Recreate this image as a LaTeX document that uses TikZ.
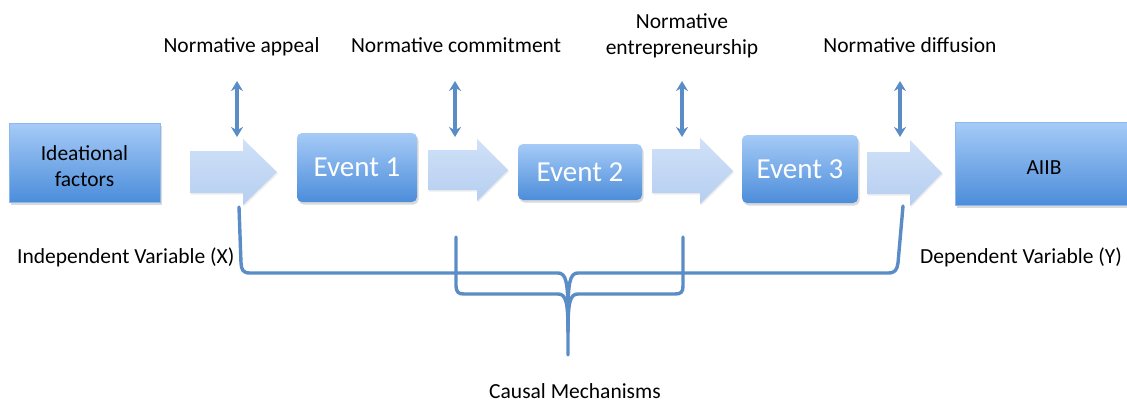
\documentclass[tikz,border=0pt]{standalone}
\usepackage{fontspec}
\setmainfont{Carlito}
\usetikzlibrary{arrows.meta,shadows}

\definecolor{linkblue}{HTML}{5A8CC6}
\definecolor{boxtop}{HTML}{A6CBF7}
\definecolor{boxbot}{HTML}{4C8DDA}
\definecolor{arrtop}{HTML}{D0E1F8}
\definecolor{arrbot}{HTML}{B6CEF0}

\tikzset{
  x=1pt, y=-1pt,
  every node/.style={font=\fontsize{21.5}{26}\selectfont, inner sep=0pt},
  label/.style={anchor=base, text=black},
  sidelabel/.style={anchor=base west, text=black},
  boxtext/.style={align=center, text=black},
  squarebox/.style={rectangle, top color=boxtop, bottom color=boxbot,
    draw=boxtop!70!boxbot, line width=0.6pt,
    drop shadow={shadow xshift=1.5pt, shadow yshift=-2.5pt, opacity=0.3}},
  eventbox/.style={rectangle, rounded corners=5pt, top color=boxtop, bottom color=boxbot,
    text=white, font=\fontsize{29}{34}\selectfont,
    drop shadow={shadow xshift=1.5pt, shadow yshift=-2.5pt, opacity=0.3}},
  blockarrow/.style={top color=arrtop, bottom color=arrbot,
    drop shadow={shadow xshift=1pt, shadow yshift=-1.5pt, opacity=0.15}},
  link/.style={draw=linkblue, line width=3.4pt, line cap=round, line join=round},
  twoway/.style={link, {Stealth[length=10pt,width=12pt]}-{Stealth[length=10pt,width=12pt]}}
}

% block arrow: start x, head start x, tip x, mid y, body half height, head half height
\newcommand{\flowarrow}[6]{%
  \path[blockarrow] (#1,#4-#5) -- (#2,#4-#5) -- (#2,#4-#6) -- (#3,#4)
    -- (#2,#4+#6) -- (#2,#4+#5) -- (#1,#4+#5) -- cycle;}

\begin{document}
\begin{tikzpicture}
\useasboundingbox (0,0) rectangle (1127,402);
\clip (0,0) rectangle (1127,402);

% boxes
\node[squarebox, minimum width=151pt, minimum height=79pt] (ideas) at (84.5,162.5) {};
\node[boxtext] (ideastext) at (84.5,166) {Ideational\\factors};
\node[eventbox, minimum width=120pt, minimum height=69pt] (ev1) at (357,167.5) {Event 1};
\node[eventbox, minimum width=124pt, minimum height=56pt] (ev2) at (580,172) {Event 2};
\node[eventbox, minimum width=116pt, minimum height=68pt] (ev3) at (800,169) {Event 3};
\node[squarebox, minimum width=178pt, minimum height=83pt] (aiib) at (1044,163.5) {};
\node[boxtext] (aiibtext) at (1044,168) {AIIB};

% block arrows between the stages
\flowarrow{190}{243}{277}{172}{21}{33}
\flowarrow{428}{477}{508}{170}{20}{31}
\flowarrow{652}{700}{733}{171}{22}{33}
\flowarrow{867}{910}{942}{173}{21}{33}

% mechanism labels
\node[label] (appeal) at (241.5,52) {Normative appeal};
\node[label] (commit) at (456,52) {Normative commitment};
\node[label, align=center, anchor=south] (entre) at (682,58) {Normative\\entrepreneurship};
\node[label] (diffuse) at (910,52) {Normative diffusion};

% two-way links
\coordinate (a1t) at (237,81);  \coordinate (a1b) at (237,137);
\coordinate (a2t) at (455,81);  \coordinate (a2b) at (455,137);
\coordinate (a3t) at (682,81);  \coordinate (a3b) at (682,137);
\coordinate (a4t) at (900,81);  \coordinate (a4b) at (900,137);
\draw[twoway] (a1t) -- (a1b);
\draw[twoway] (a2t) -- (a2b);
\draw[twoway] (a3t) -- (a3b);
\draw[twoway] (a4t) -- (a4b);

% variable labels
\node[sidelabel] (indep) at (17,263) {Independent Variable (X)};
\node[sidelabel] (dep) at (920,263) {Dependent Variable (Y)};
\node[label] (causal) at (575,398) {Causal Mechanisms};

% outer brace
\draw[link] (239,207) -- (241,263) .. controls (241.5,270) and (243,273) .. (250,273)
  -- (558,273) .. controls (566,273) and (568,282) .. (568,315) -- (568,355);
\draw[link] (568,315) .. controls (568,282) and (570,273) .. (578,273)
  -- (888,273) .. controls (895,273) and (897,270) .. (898,263) -- (903,206);

% inner brace
\draw[link] (456,237) -- (456,286) .. controls (456.5,292) and (458,294) .. (464,294)
  -- (558,294) .. controls (566,294) and (568,302) .. (568,332);
\draw[link] (568,332) .. controls (568,302) and (570,294) .. (578,294)
  -- (675,294) .. controls (681,294) and (683,292) .. (683,286) -- (683,237);
\end{tikzpicture}
\end{document}
